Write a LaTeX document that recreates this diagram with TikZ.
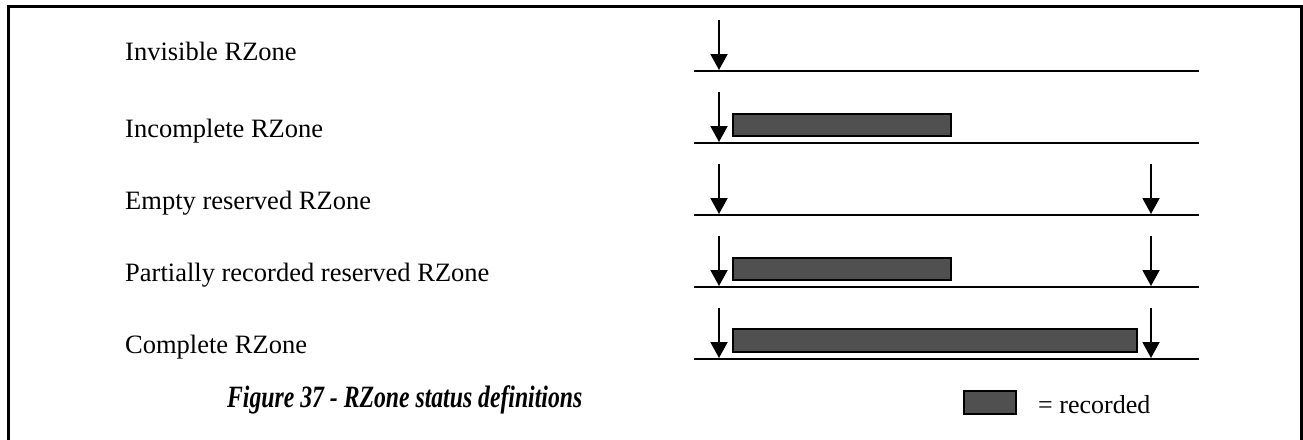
\documentclass[tikz,border=0pt]{standalone}
\usepackage{fontspec}
\setmainfont{Liberation Serif}
\usetikzlibrary{arrows.meta}
\definecolor{recgray}{RGB}{80,80,80}
\begin{document}
\begin{tikzpicture}[x=1pt,y=-1pt,
  lbl/.style={anchor=base west,inner sep=0pt,font=\fontsize{26.5}{30}\selectfont},
  track/.style={line width=2pt},
  ptr/.style={line width=2pt,-{Triangle[width=17pt,length=16pt]}},
  bar/.style={draw=black,fill=recgray,line width=2pt,inner sep=0pt,anchor=north west},
  frame/.style={line width=3pt}]
\useasboundingbox (0,0) rectangle (1303,439);
\draw[frame] (8,441) -- (8,6) -- (1301,6) -- (1301,441);
% labels
\node[lbl] (l1) at (125,60) {Invisible RZone};
\node[lbl] (l2) at (125,137) {Incomplete RZone};
\node[lbl] (l3) at (125,209) {Empty reserved RZone};
\node[lbl] (l4) at (125,281) {Partially recorded reserved RZone};
\node[lbl] (l5) at (125,353) {Complete RZone};
% tracks
\foreach \i/\y in {1/71,2/143,3/215,4/287,5/359}{
  \coordinate (ts\i) at (694,\y);
  \coordinate (te\i) at (1199,\y);
  \draw[track] (ts\i) -- (te\i);
  \coordinate (as\i) at (719,\y-51);
  \coordinate (ae\i) at (719,\y-1);
  \draw[ptr] (as\i) -- (ae\i);
}
\foreach \i/\y in {3/215,4/287,5/359}{
  \coordinate (bs\i) at (1151,\y-51);
  \coordinate (be\i) at (1151,\y-1);
  \draw[ptr] (bs\i) -- (be\i);
}
% bars
\node[bar,minimum width=218pt,minimum height=22pt] (b2) at (732,113) {};
\node[bar,minimum width=218pt,minimum height=22pt] (b4) at (732,257) {};
\node[bar,minimum width=404pt,minimum height=23pt] (b5) at (732,328) {};
% caption
\node[anchor=base west,inner sep=0pt,font=\fontsize{31}{34}\selectfont\bfseries\itshape,xscale=0.765] (cap) at (227,407) {Figure 37 - RZone status definitions};
% legend
\node[bar,minimum width=52pt,minimum height=23pt] (lg) at (963,390) {};
\node[anchor=base west,inner sep=0pt,font=\fontsize{26}{29}\selectfont] (lgt) at (1038,413) {= recorded};
\end{tikzpicture}
\end{document}
